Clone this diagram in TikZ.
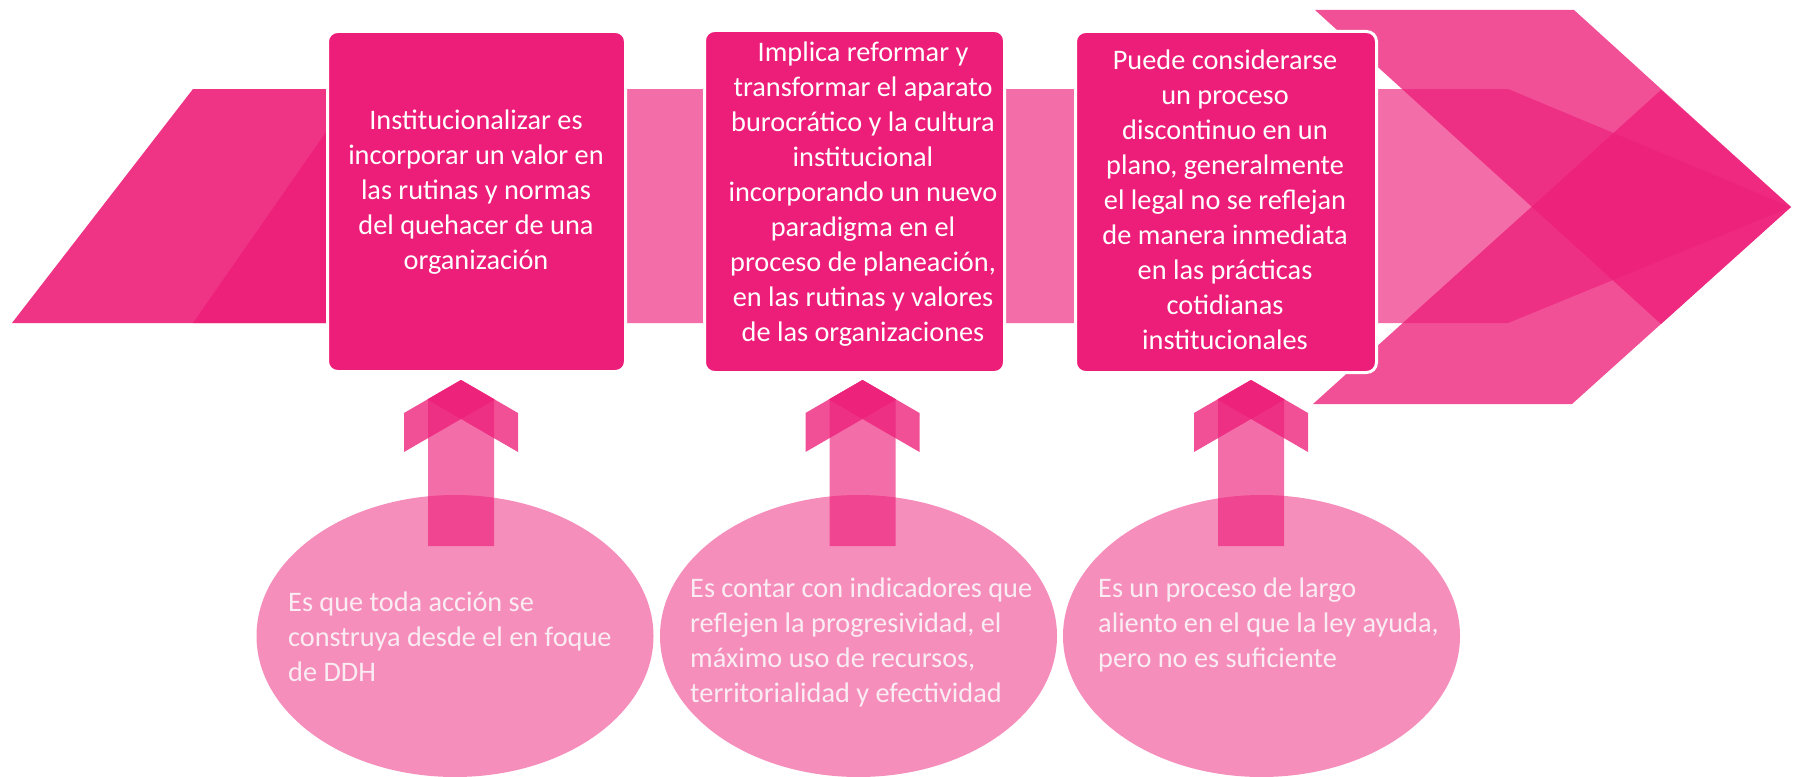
\documentclass[tikz,border=0pt]{standalone}
\usepackage{fontspec}
\setmainfont{Carlito}
\usetikzlibrary{shapes.geometric}
\definecolor{mag}{RGB}{237,30,121}
\definecolor{etext}{RGB}{250,236,243}
\newcommand{\drawarrowup}[2]{%
  \coordinate (#2) at (#1,380);
  \begin{scope}[shift={(#2)}]
    \fill[shaftst] (-33,166) -- (-33,19.1) -- (0,0) -- (33,19.1) -- (33,166) -- cycle;
    \fill[armst] (-57,72) -- (-57,33) -- (0,0) -- (33.7,19.5) -- cycle;
    \fill[armst] (57,72) -- (57,33) -- (0,0) -- (-33.7,19.5) -- cycle;
  \end{scope}}
\tikzset{
  bandst/.style={fill=mag, fill opacity=0.65},
  shaftst/.style={fill=mag, fill opacity=0.65},
  armst/.style={fill=mag, fill opacity=0.78},
  tailst/.style={fill=mag, fill opacity=0.9},
  boxst/.style={draw=white, line width=3pt, fill=mag, rounded corners=10pt, inner sep=0pt},
  ovalst/.style={ellipse, fill=mag, fill opacity=0.5, minimum width=397pt, minimum height=282pt, inner sep=0pt},
  boxtext/.style={text=white, align=center, inner sep=0pt, font=\fontsize{28.3}{35}\selectfont},
  ovaltext/.style={text=etext, align=left, anchor=west, inner sep=0pt, font=\fontsize{28.3}{35}\selectfont}
}
\begin{document}
\begin{tikzpicture}[x=1pt, y=-1pt]
\useasboundingbox (0,0) rectangle (1795,776);
% band
\fill[bandst] (340,89) -- (1508,89) -- (1791,207) -- (1508,323) -- (340,323) -- cycle;
% left tail
\fill[tailst] (12,323) -- (193,89) -- (400,89) -- (400,323) -- cycle;
\fill[tailst] (193,323) -- (356,89) -- (420,89) -- (420,323) -- cycle;
% right chevron
\fill[armst] (1315,10) -- (1574,10) -- (1791,207) -- (1661,324) -- cycle;
\fill[armst] (1313,404) -- (1572,404) -- (1791,207) -- (1661,90) -- cycle;
% boxes
\node[boxst, minimum width=298pt, minimum height=340pt] (b1) at (476.5,201.5) {};
\node[boxst, minimum width=300pt, minimum height=342pt] (b2) at (854.5,201.5) {};
\node[boxst, minimum width=301pt, minimum height=341pt] (b3) at (1226,202) {};
\node[boxtext] (t1) at (476,192.5) {Institucionalizar es\\incorporar un valor en\\las rutinas y normas\\del quehacer de una\\organización};
\node[boxtext] (t2) at (863,194.5) {Implica reformar y\\transformar el aparato\\burocrático y la cultura\\institucional\\incorporando un nuevo\\paradigma en el\\proceso de planeación,\\en las rutinas y valores\\de las organizaciones};
\node[boxtext] (t3) at (1225,200) {Puede considerarse\\un proceso\\discontinuo en un\\plano, generalmente\\el legal no se reflejan\\de manera inmediata\\en las prácticas\\cotidianas\\institucionales};
% up arrows
\drawarrowup{461}{a1}
\drawarrowup{862.5}{a2}
\drawarrowup{1251}{a3}
% ellipses
\node[ovalst] (e1) at (455,636) {};
\node[ovalst] (e2) at (858.5,636) {};
\node[ovalst] (e3) at (1261.5,636) {};
\node[ovaltext] (et1) at (288,637) {Es que toda acción se\\construya desde el en foque\\de DDH};
\node[ovaltext] (et2) at (690,642.5) {Es contar con indicadores que\\reflejen la progresividad, el\\máximo uso de recursos,\\territorialidad y efectividad};
\node[ovaltext] (et3) at (1098,625) {Es un proceso de largo\\aliento en el que la ley ayuda,\\pero no es suficiente};
\end{tikzpicture}
\end{document}
